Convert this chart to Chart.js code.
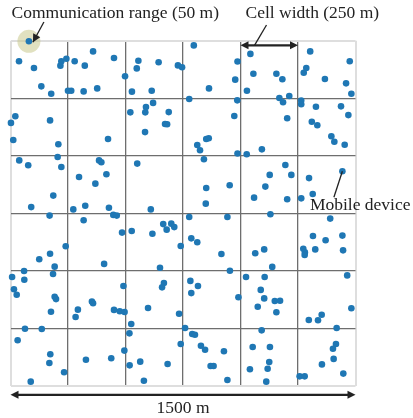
<!DOCTYPE html>
<html>
<head>
<meta charset="utf-8">
<script src="https://cdn.jsdelivr.net/npm/chart.js@4/dist/chart.umd.min.js"></script>
<style>
    html, body { margin: 0; padding: 0; background: #fff; }
    #chart-canvas { display: block; }
</style>
</head>
<body>
<canvas id="chart-canvas" width="413" height="418"></canvas>
<script>
// device positions in metres (area is 1500 m x 1500 m)
const deviceX = [80,37,102,221,217,243,279,323,359,450,498,134,177,250,264,318,377,21,2,172,12,208,424,797,556,549,644,728,746,987,977,528,614,863,777,986,589,620,521,586,688,672,681,585,973,851,862,812,824,987,1043,1056,1156,1182,1028,1169,1185,1212,1203,1303,1475,1286,1275,1367,1459,1482,1264,1264,1328,1437,1469,1310,1334,1395,1408,1453,1093,1027,38,77,205,221,186,90,170,385,395,417,298,369,273,325,428,447,462,318,485,240,172,125,192,407,551,610,841,851,953,849,527,617,664,699,679,712,740,650,777,943,786,812,917,954,1195,1127,1221,1108,1059,1203,1130,1264,1314,1298,1443,1390,1315,1370,1443,1064,1103,1138,1273,1280,1279,1325,1446,59,185,7,60,15,27,192,198,176,63,136,31,173,169,233,88,491,354,359,293,283,450,475,496,495,328,438,667,659,598,733,525,517,564,518,683,580,740,759,782,815,786,991,790,802,828,846,928,870,883,943,1024,1105,1088,1103,1149,1172,1075,1156,1092,1053,1128,1125,1118,1041,1112,1464,1482,1353,1297,1337,1418,1415,1402,1405,1354,1447,1257,1279];
const deviceY = [1498,1411,1382,1411,1392,1422,1411,1392,1454,1425,1346,1302,1270,1283,1283,1280,1293,1172,1143,1154,1069,1050,1073,1480,1413,1380,1407,1393,1385,1410,1331,1279,1283,1293,1247,1241,1212,1230,1189,1189,1190,1138,1137,1103,1173,1073,1076,1047,1024,1010,1443,1357,1357,1333,1283,1251,1233,1260,1163,1454,1411,1382,1361,1334,1315,1270,1240,1224,1213,1215,1177,1148,1133,1085,1061,1048,1028,1007,980,959,995,951,827,777,740,980,972,920,908,879,767,783,774,743,740,720,666,607,574,550,518,530,966,767,985,860,872,792,673,661,703,705,679,690,608,513,734,734,641,624,573,500,960,917,917,866,818,811,746,815,834,903,933,727,651,633,653,576,593,517,596,580,569,593,589,499,486,473,461,420,396,387,377,322,248,247,198,137,99,59,18,434,366,359,331,299,330,324,321,153,113,120,447,428,338,313,269,228,105,89,95,22,182,251,456,434,403,385,225,222,174,157,150,86,86,25,473,473,417,380,369,370,344,320,241,169,169,103,74,72,18,480,337,309,286,285,251,182,161,117,93,53,41,41];

const areaSize = 1500;
const cellWidth = 250;
const commRange = 50;
const rangeDevice = 0;     // device that shows the communication range
const labelDevice = 132;   // device pointed at by "Mobile device"

const labels = {
    range: 'Communication range (50 m)',
    cell: 'Cell width (250 m)',
    device: 'Mobile device',
    area: '1500 m'
};

const ink = '#222';
const font = '17.5px "Liberation Serif", "DejaVu Serif", serif';

function arrowHead(ctx, x1, y1, x2, y2) {
    const a = Math.atan2(y2 - y1, x2 - x1);
    const len = 8, half = 4;
    ctx.beginPath();
    ctx.moveTo(x2, y2);
    ctx.lineTo(x2 - len * Math.cos(a) + half * Math.sin(a), y2 - len * Math.sin(a) - half * Math.cos(a));
    ctx.lineTo(x2 - len * Math.cos(a) - half * Math.sin(a), y2 - len * Math.sin(a) + half * Math.cos(a));
    ctx.closePath();
    ctx.fill();
}

function doubleArrow(ctx, x1, y, x2) {
    ctx.beginPath();
    ctx.moveTo(x1 + 4, y);
    ctx.lineTo(x2 - 4, y);
    ctx.stroke();
    arrowHead(ctx, x2, y, x1, y);
    arrowHead(ctx, x1, y, x2, y);
}

function line(ctx, x1, y1, x2, y2) {
    ctx.beginPath();
    ctx.moveTo(x1, y1);
    ctx.lineTo(x2, y2);
    ctx.stroke();
}

const rangePlugin = {
    id: 'rangeCircle',
    beforeDatasetsDraw(chart) {
        const { ctx, scales } = chart;
        const cx = scales.x.getPixelForValue(deviceX[rangeDevice]);
        const cy = scales.y.getPixelForValue(deviceY[rangeDevice]);
        const r = scales.x.getPixelForValue(commRange) - scales.x.getPixelForValue(0);
        ctx.save();
        ctx.fillStyle = 'rgba(200, 200, 140, 0.55)';
        ctx.beginPath();
        ctx.arc(cx, cy, r, 0, Math.PI * 2);
        ctx.fill();
        ctx.restore();
    }
};

const notesPlugin = {
    id: 'notes',
    afterDatasetsDraw(chart) {
        const { ctx, scales, chartArea } = chart;
        const x = scales.x, y = scales.y;

        ctx.save();
        ctx.fillStyle = ink;
        ctx.strokeStyle = ink;
        ctx.font = font;
        ctx.textBaseline = 'alphabetic';

        // communication range
        const rx = x.getPixelForValue(deviceX[rangeDevice]);
        const ry = y.getPixelForValue(deviceY[rangeDevice]);
        ctx.textAlign = 'left';
        ctx.fillText(labels.range, chartArea.left + 1, 17.5);
        ctx.lineWidth = 1.3;
        line(ctx, rx + 15, 22, rx + 4, ry + 1);
        arrowHead(ctx, rx + 15, 22, rx + 4, ry + 1);

        // cell width
        const c1 = x.getPixelForValue(4 * cellWidth);
        const c2 = x.getPixelForValue(5 * cellWidth);
        const cy = y.getPixelForValue(areaSize) + 4.5;
        ctx.fillText(labels.cell, c1 + 5, 17.5);
        ctx.lineWidth = 1.3;
        line(ctx, c1 + 26, 25, c1 + 14, cy);
        ctx.lineWidth = 2.2;
        doubleArrow(ctx, c1, cy, c2);

        // mobile device
        const mx = x.getPixelForValue(deviceX[labelDevice]);
        const my = y.getPixelForValue(deviceY[labelDevice]);
        ctx.lineWidth = 1.3;
        line(ctx, mx, my, mx - 8.5, my + 26);
        ctx.fillText(labels.device, mx - 32.5, my + 39);

        // area width
        const by = chartArea.bottom + 9;
        ctx.lineWidth = 2.2;
        doubleArrow(ctx, x.getPixelForValue(0), by, x.getPixelForValue(areaSize));
        ctx.textAlign = 'center';
        ctx.fillText(labels.area, (chartArea.left + chartArea.right) / 2, by + 18.5);

        ctx.restore();
    }
};

function gridColor(c) {
    const v = c.tick.value;
    return (v === 0 || v === areaSize) ? '#dedede' : '#6e6e6e';
}

function gridWidth(c) {
    const v = c.tick.value;
    return (v === 0 || v === areaSize) ? 2 : 1.3;
}

function axis() {
    return {
        type: 'linear',
        min: 0,
        max: areaSize,
        ticks: { display: false, stepSize: cellWidth },
        border: { display: false },
        grid: { color: gridColor, lineWidth: gridWidth, drawTicks: false }
    };
}

const points = deviceX.map((v, i) => ({ x: v, y: deviceY[i] }));

const ctx = document.getElementById('chart-canvas').getContext('2d');
const chart = new Chart(ctx, {
    type: 'scatter',
    data: {
        datasets: [{
            data: points,
            backgroundColor: '#1f77b4',
            borderColor: '#1f77b4',
            borderWidth: 0,
            pointRadius: 3.3,
            clip: false
        }]
    },
    options: {
        responsive: false,
        animation: false,
        layout: { padding: { left: 10.5, top: 40.8, right: 57.5, bottom: 32.2 } },
        plugins: { legend: { display: false }, tooltip: { enabled: false } },
        scales: { x: axis(), y: axis() }
    },
    plugins: [rangePlugin, notesPlugin]
});
</script>
</body>
</html>
